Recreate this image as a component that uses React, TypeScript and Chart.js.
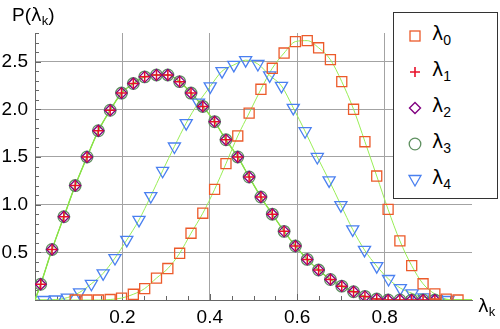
import React, { useEffect, useRef } from 'react';
import { Chart, registerables } from 'chart.js';

Chart.register(...registerables);

// x positions of the samples (λ0..λ3 share one grid, λ4 has its own)
const xGridA = [0.013, 0.039, 0.066, 0.092, 0.119, 0.145, 0.172, 0.198, 0.225, 0.251, 0.278, 0.304, 0.331, 0.357, 0.384, 0.411, 0.437, 0.464, 0.490, 0.517, 0.543, 0.570, 0.596, 0.623, 0.649, 0.676, 0.702, 0.729, 0.755, 0.782, 0.808, 0.835, 0.862, 0.888, 0.915, 0.941, 0.968];
const xGridB = [0.020, 0.047, 0.074, 0.102, 0.129, 0.156, 0.183, 0.210, 0.238, 0.265, 0.292, 0.319, 0.346, 0.374, 0.401, 0.428, 0.455, 0.482, 0.510, 0.537, 0.564, 0.591, 0.618, 0.646, 0.673, 0.700, 0.727, 0.754, 0.782, 0.809, 0.836, 0.863, 0.890, 0.918, 0.945];

const lambda0: (number | null)[] = [null, null, null, 0, 0, 0, 0.005, 0.02, 0.06, 0.12, 0.23, 0.33, 0.49, 0.70, 0.91, 1.16, 1.43, 1.72, 1.96, 2.21, 2.43, 2.59, 2.71, 2.72, 2.645, 2.52, 2.29, 2.0, 1.66, 1.30, 0.95, 0.62, 0.36, 0.17, 0.063, 0.01, 0];
const lambda1: (number | null)[] = [0.165, 0.53, 0.873, 1.20, 1.50, 1.775, 1.99, 2.17, 2.27, 2.34, 2.36, 2.36, 2.29, 2.17, 2.03, 1.87, 1.68, 1.50, 1.29, 1.08, 0.90, 0.72, 0.566, 0.426, 0.314, 0.215, 0.145, 0.087, 0.038, 0.01, 0, 0, 0, 0, 0, null, null];
const lambda2: (number | null)[] = [0.165, 0.53, 0.873, 1.20, 1.50, 1.775, 1.99, 2.17, 2.27, 2.34, 2.36, 2.36, 2.29, 2.17, 2.03, 1.87, 1.68, 1.50, 1.29, 1.08, 0.90, 0.72, 0.566, 0.426, 0.314, 0.215, 0.145, 0.087, 0.038, 0.01, 0, 0, 0, 0, 0, null, null];
const lambda3: (number | null)[] = [0.165, 0.53, 0.873, 1.20, 1.50, 1.775, 1.99, 2.17, 2.27, 2.34, 2.36, 2.36, 2.29, 2.17, 2.03, 1.87, 1.68, 1.50, 1.29, 1.08, 0.90, 0.72, 0.566, 0.426, 0.314, 0.215, 0.145, 0.087, 0.038, 0.01, 0, 0, 0, 0, 0, null, null];
const lambda4: (number | null)[] = [0.0, 0.005, 0.025, 0.08, 0.17, 0.28, 0.44, 0.63, 0.84, 1.09, 1.355, 1.61, 1.855, 2.07, 2.24, 2.40, 2.465, 2.515, 2.475, 2.355, 2.245, 2.015, 1.77, 1.50, 1.255, 0.995, 0.74, 0.525, 0.355, 0.22, 0.125, 0.07, 0.028, 0.01, 0.0];

const seriesNames = ['0', '1', '2', '3', '4'];
const xTickLabels = ['0.2', '0.4', '0.6', '0.8'];
const yTickLabels = ['0.5', '1.0', '1.5', '2.0', '2.5'];

const COLORS = {
  sq: '#ec5a2a',
  cross: '#e8102a',
  diamond: '#800080',
  circle: '#5f9060',
  tri: '#4a80f0',
  curve: '#99ee55',
  grid: '#a3a3a3',
  axis: '#666666',
};

const TICK_FONT = { family: '"Liberation Sans", Arial, sans-serif', size: 19 };

function pts(xs: number[], ys: (number | null)[]) {
  const out: { x: number; y: number }[] = [];
  xs.forEach((x, i) => {
    const v = ys[i];
    if (v !== null && v !== undefined) out.push({ x, y: v });
  });
  return out;
}
function curve(xs: number[], ys: (number | null)[]) {
  return [{ x: 0, y: 0 }, ...pts(xs, ys), { x: 1, y: 0 }];
}

const fmt = (v: number) => v.toFixed(1);

const minorTicks = {
  id: 'minorTicks',
  beforeDatasetsDraw(chart: any) {
    const { ctx, chartArea, scales } = chart;
    const xs = scales.x;
    const ys = scales.y;
    ctx.save();
    ctx.strokeStyle = COLORS.axis;
    ctx.lineWidth = 1;
    ctx.beginPath();
    xs.ticks.forEach((t: any) => {
      if (t.value <= 0 || t.value >= 1) return;
      const px = Math.round(xs.getPixelForValue(t.value)) + 0.5;
      const major = xTickLabels.includes(fmt(t.value)) && Math.abs(t.value * 5 - Math.round(t.value * 5)) < 1e-6;
      const len = major ? 6 : 4;
      ctx.moveTo(px, chartArea.bottom);
      ctx.lineTo(px, chartArea.bottom - len);
    });
    ys.ticks.forEach((t: any) => {
      if (t.value <= 0) return;
      const py = Math.round(ys.getPixelForValue(t.value)) + 0.5;
      const major = Math.abs(t.value * 2 - Math.round(t.value * 2)) < 1e-6;
      const len = major ? 6 : 4;
      ctx.moveTo(chartArea.left, py);
      ctx.lineTo(chartArea.left + len, py);
    });
    ctx.stroke();
    ctx.restore();
  },
};

function Marker({ kind }: { kind: number }) {
  const s = 16;
  const c = s / 2;
  if (kind === 0)
    return (
      <svg width={s} height={s}>
        <rect x={c - 5} y={c - 5} width={10} height={10} fill="none" stroke={COLORS.sq} strokeWidth={1.3} />
      </svg>
    );
  if (kind === 1)
    return (
      <svg width={s} height={s}>
        <path d={`M${c} ${c - 5}V${c + 5}M${c - 5} ${c}H${c + 5}`} stroke={COLORS.cross} strokeWidth={1.6} />
      </svg>
    );
  if (kind === 2)
    return (
      <svg width={s} height={s}>
        <path d={`M${c} ${c - 5.5}L${c + 5.5} ${c}L${c} ${c + 5.5}L${c - 5.5} ${c}Z`} fill="none" stroke={COLORS.diamond} strokeWidth={1.4} />
      </svg>
    );
  if (kind === 3)
    return (
      <svg width={s} height={s}>
        <circle cx={c} cy={c} r={5.8} fill="none" stroke={COLORS.circle} strokeWidth={1.3} />
      </svg>
    );
  return (
    <svg width={s} height={s}>
      <path d={`M${c - 6} ${c - 4.5}L${c + 6} ${c - 4.5}L${c} ${c + 6}Z`} fill="none" stroke={COLORS.tri} strokeWidth={1.3} />
    </svg>
  );
}

export default function App() {
  const canvasRef = useRef<HTMLCanvasElement | null>(null);

  useEffect(() => {
    document.body.style.margin = '0';
    const canvas = canvasRef.current;
    if (!canvas) return;

    const markerBase = {
      showLine: false,
      pointBackgroundColor: 'rgba(0,0,0,0)',
      pointBorderWidth: 1.3,
      order: 1,
    };
    const lineBase = {
      showLine: true,
      pointRadius: 0,
      borderColor: COLORS.curve,
      borderWidth: 1,
      cubicInterpolationMode: 'monotone' as const,
      order: 10,
    };

    const chart = new Chart(canvas, {
      type: 'scatter',
      data: {
        datasets: [
          { ...markerBase, label: 'λ' + seriesNames[0], data: pts(xGridA, lambda0), pointStyle: 'rect', pointRadius: 7.1, pointBorderColor: COLORS.sq, borderColor: COLORS.sq },
          { ...markerBase, label: 'λ' + seriesNames[1], data: pts(xGridA, lambda1), pointStyle: 'cross', pointRadius: 5, pointBorderWidth: 1.5, pointBorderColor: COLORS.cross, borderColor: COLORS.cross },
          { ...markerBase, label: 'λ' + seriesNames[2], data: pts(xGridA, lambda2), pointStyle: 'rectRot', pointRadius: 5.5, pointBorderColor: COLORS.diamond, borderColor: COLORS.diamond },
          { ...markerBase, label: 'λ' + seriesNames[3], data: pts(xGridA, lambda3), pointStyle: 'circle', pointRadius: 5.8, pointBorderColor: COLORS.circle, borderColor: COLORS.circle },
          { ...markerBase, label: 'λ' + seriesNames[4], data: pts(xGridB, lambda4), pointStyle: 'triangle', pointRotation: 180, pointRadius: 7, pointBorderColor: COLORS.tri, borderColor: COLORS.tri },
          { ...lineBase, label: 'c0', data: curve(xGridA, lambda0) },
          { ...lineBase, label: 'c1', data: curve(xGridA, lambda1), borderWidth: 1.4, borderColor: '#88e048' },
          { ...lineBase, label: 'c2', data: curve(xGridA, lambda2) },
          { ...lineBase, label: 'c3', data: curve(xGridA, lambda3) },
          { ...lineBase, label: 'c4', data: curve(xGridB, lambda4) },
        ] as any,
      },
      options: {
        animation: false,
        responsive: false,
        devicePixelRatio: 1,
        layout: { padding: { top: 33, right: 28, left: 0, bottom: 0 } },
        plugins: { legend: { display: false }, tooltip: { enabled: false } },
        scales: {
          x: {
            type: 'linear',
            min: 0,
            max: 1,
            afterFit: (s: any) => {
              s.height = 29;
            },
            ticks: {
              stepSize: 0.05,
              autoSkip: false,
              maxRotation: 0,
              padding: 6,
              color: '#000',
              font: TICK_FONT,
              callback: (v: any) => {
                const l = fmt(Number(v));
                return Math.abs(Number(v) * 5 - Math.round(Number(v) * 5)) < 1e-6 && xTickLabels.includes(l) ? l : '';
              },
            },
            grid: {
              drawTicks: false,
              color: (c: any) => {
                const v = c.tick ? c.tick.value : 0;
                return Math.abs(v * 5 - Math.round(v * 5)) < 1e-6 && xTickLabels.includes(fmt(v)) ? COLORS.grid : 'rgba(0,0,0,0)';
              },
            },
            border: { display: true, color: COLORS.axis, width: 1 },
          },
          y: {
            type: 'linear',
            min: 0,
            max: 2.8,
            afterFit: (s: any) => {
              s.width = 35;
            },
            ticks: {
              stepSize: 0.1,
              autoSkip: false,
              padding: 7,
              color: '#000',
              font: TICK_FONT,
              callback: (v: any) => {
                const l = fmt(Number(v));
                return Math.abs(Number(v) * 2 - Math.round(Number(v) * 2)) < 1e-6 && yTickLabels.includes(l) ? l : '';
              },
            },
            grid: {
              drawTicks: false,
              color: (c: any) => {
                const v = c.tick ? c.tick.value : 0;
                return Math.abs(v * 2 - Math.round(v * 2)) < 1e-6 && yTickLabels.includes(fmt(v)) ? COLORS.grid : 'rgba(0,0,0,0)';
              },
            },
            border: { display: true, color: COLORS.axis, width: 1 },
          },
        },
      },
      plugins: [minorTicks],
    });

    return () => chart.destroy();
  }, []);

  const labelFont = '"Liberation Sans", Arial, sans-serif';
  const greek = '"DejaVu Sans", sans-serif';

  return (
    <div style={{ position: 'relative', width: 500, height: 329, background: '#fff', overflow: 'hidden' }}>
      <canvas ref={canvasRef} width={500} height={329} style={{ position: 'absolute', left: 0, top: 0 }} />
      <div style={{ position: 'absolute', left: 12, top: 5, fontFamily: labelFont, fontSize: 19, lineHeight: '19px', color: '#000', whiteSpace: 'nowrap' }}>
        P(<span style={{ fontFamily: greek, fontSize: 18 }}>λ</span>
        <span style={{ fontSize: 13, position: 'relative', top: 4 }}>k</span>)
      </div>
      <div style={{ position: 'absolute', left: 478, top: 296, fontFamily: labelFont, fontSize: 19, lineHeight: '19px', color: '#000', whiteSpace: 'nowrap' }}>
        <span style={{ fontFamily: greek, fontSize: 18 }}>λ</span>
        <span style={{ fontSize: 13, position: 'relative', top: 4 }}>k</span>
      </div>
      <div
        style={{
          position: 'absolute',
          left: 393,
          top: 12,
          width: 105,
          height: 187,
          boxSizing: 'border-box',
          border: '1px solid #333',
          background: '#fff',
          paddingTop: 5,
        }}
      >
        {seriesNames.map((n, i) => (
          <div key={n} style={{ height: 36, display: 'flex', alignItems: 'center', position: 'relative' }}>
            <div style={{ position: 'absolute', left: 13, top: 10, width: 16, height: 16 }}>
              <Marker kind={i} />
            </div>
            <div style={{ position: 'absolute', left: 38, top: 6, fontFamily: greek, fontSize: 19, lineHeight: '19px', color: '#000', whiteSpace: 'nowrap' }}>
              λ<span style={{ fontFamily: labelFont, fontSize: 14, position: 'relative', top: 5 }}>{n}</span>
            </div>
          </div>
        ))}
      </div>
    </div>
  );
}
